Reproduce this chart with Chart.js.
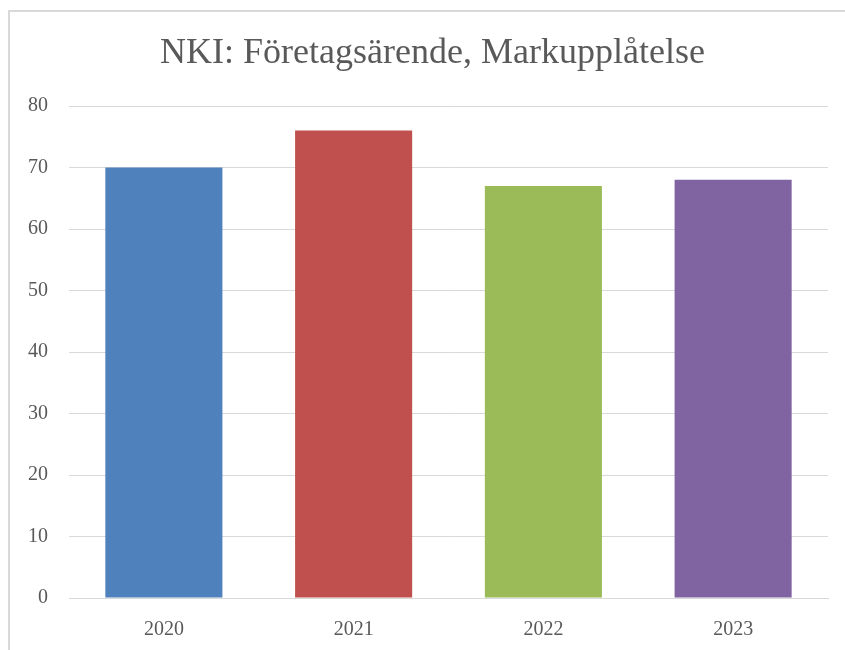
<!DOCTYPE html>
<html>
<head>
<meta charset="utf-8">
<script src="https://cdn.jsdelivr.net/npm/chart.js@4/dist/chart.umd.min.js"></script>
<style>
  html, body { margin: 0; padding: 0; background: #fff; overflow: hidden; }
  #frame { position: absolute; left: 8px; top: 10px; width: 900px; height: 700px; border: 2px solid #d9d9d9; }
  #wrap { position: absolute; left: 0; top: 0; width: 845px; height: 650px; }
</style>
</head>
<body>
<div id="frame"></div>
<div id="wrap"><canvas id="nkiChart" width="845" height="650"></canvas></div>
<script>
// data
var years = ["2020", "2021", "2022", "2023"];
var nkiValues = [70, 76, 67, 68];
var barColors = ["#4F81BD", "#C0504D", "#9BBB59", "#8064A2"];
var yTicks = [0, 10, 20, 30, 40, 50, 60, 70, 80];
var chartTitle = 'NKI: Företagsärende, Markupplåtelse';

var serif = "'Liberation Serif', 'DejaVu Serif', serif";
var textGray = "#595959";

// title sits centred on the whole frame, not the canvas, so draw it ourselves
var frameTitle = {
    id: 'frameTitle',
    afterDraw: function (chart) {
        var c = chart.ctx;
        c.save();
        c.font = "36px " + serif;
        c.fillStyle = textGray;
        c.textAlign = 'center';
        c.textBaseline = 'middle';
        c.fillText(chartTitle, chart.width / 2 + 10, 54);
        c.restore();
    }
};

const ctx = document.getElementById("nkiChart");

var nkiChart = new Chart(ctx, {
    type: 'bar',
    data: {
        labels: years,
        datasets: [{
            data: nkiValues,
            backgroundColor: barColors,
            borderWidth: 0,
            barPercentage: 0.617,
            categoryPercentage: 1.0
        }]
    },
    options: {
        responsive: false,
        animation: false,
        layout: { padding: { left: 0, right: 17, top: 106, bottom: 13 } },
        plugins: {
            legend: { display: false },
            tooltip: { enabled: false },
            title: { display: false }
        },
        scales: {
            x: {
                afterFit: function (scale) { scale.height = 39; },
                grid: { display: false },
                border: { display: true, color: '#d9d9d9', width: 1 },
                ticks: { color: textGray, font: { family: serif, size: 20 }, padding: 12 }
            },
            y: {
                min: 0,
                max: 80,
                afterFit: function (scale) { scale.width = 69; },
                afterBuildTicks: function (scale) {
                    scale.ticks = yTicks.map(function (v) { return { value: v }; });
                },
                grid: { color: '#d9d9d9', lineWidth: 1, drawTicks: false },
                border: { display: false },
                ticks: { color: textGray, font: { family: serif, size: 20 }, padding: 21 }
            }
        }
    },
    plugins: [frameTitle]
});
</script>
</body>
</html>
